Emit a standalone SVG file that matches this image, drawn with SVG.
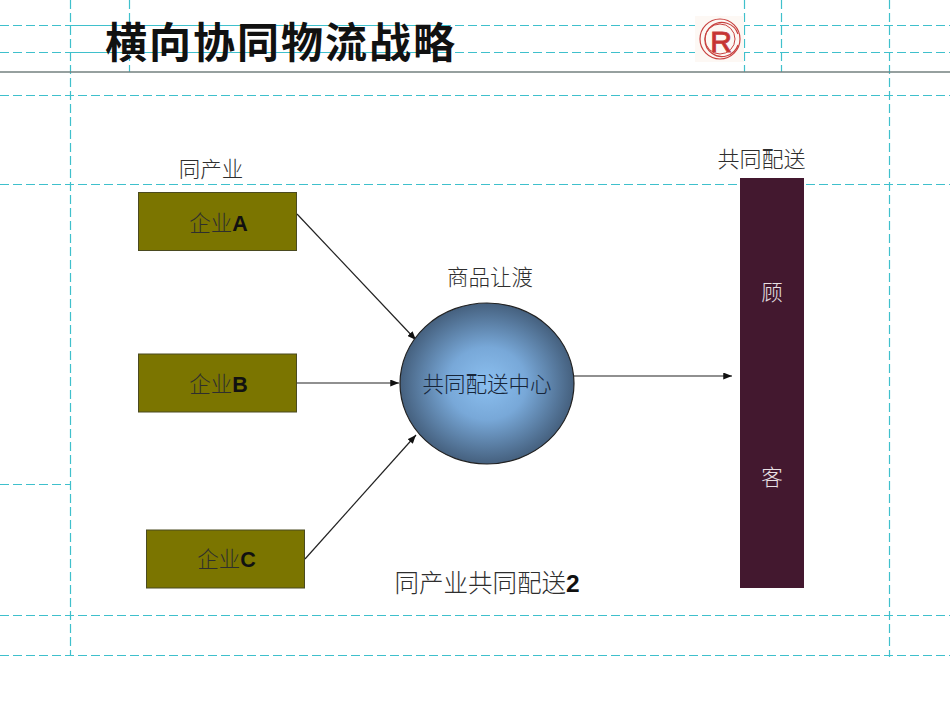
<svg xmlns="http://www.w3.org/2000/svg" width="950" height="713" viewBox="0 0 950 713">
<style>
.g{stroke:#3fc0cc;stroke-width:1.200;stroke-dasharray:9 4;fill:none}
.c{stroke:#222;stroke-width:1.200;fill:none;marker-end:url(#a)}
.n{stroke:#4a4a20;stroke-width:1;fill:#7b7500}
text{font-family:"Noto Sans CJK SC","Liberation Sans",sans-serif;fill:#2e2e2e;font-size:21.500px;font-weight:300;text-anchor:middle}
.b{font-family:"Liberation Sans","Noto Sans CJK SC",sans-serif;font-weight:700;fill:#111}
</style>
<defs>
<marker id="a" viewBox="0 0 10 8" refX="10" refY="4" markerWidth="9" markerHeight="7" markerUnits="userSpaceOnUse" orient="auto"><path d="M0 0L10 4L0 8z" fill="#111"/></marker>
<radialGradient id="s" cx="50%" cy="50%" r="50%"><stop offset="0" stop-color="#8cc0f0"/><stop offset="0.45" stop-color="#78a8d8"/><stop offset="1" stop-color="#45607e"/></radialGradient>
</defs>
<rect width="950" height="713" fill="#fff"/>
<g id="guides">
<path class="g" d="M0 25.500H950M0 52.500H950M0 95.500H950M0 184.500H950M0 615.500H950M0 655.500H950M0 484.500H70"/>
<path class="g" d="M70.500 0V655M129.500 0V72M744.500 0V72M781.500 0V72M889.500 0V657"/>
<path d="M70 25.500H450M70 52.500H450" stroke="#3fc0cc" stroke-width="1" fill="none"/>
<path d="M0 72H950" stroke="#73807f" stroke-width="1.500"/>
</g>
<text x="281" y="58" style="font-size:42px;font-weight:700;fill:#111;letter-spacing:2px">横向协同物流战略</text>
<g id="logo" fill="none" stroke="#c8413f">
<rect x="695" y="16" width="49" height="46" fill="#fdf8f4" stroke="none"/>
<circle cx="720" cy="39" r="20" stroke-width="1.200"/>
<path d="M738 34A17 17 0 1 0 738 45" stroke-width="1.200"/>
<circle cx="720" cy="39" r="15" stroke-width="1"/>
<text x="721" y="52" style="font-family:'Liberation Sans',sans-serif;font-size:30px;font-weight:400;fill:#c53030">R</text>
</g>
<g id="connectors">
<path class="c" d="M297 214L416 340"/>
<path class="c" d="M297 383H399"/>
<path class="c" d="M305 559L416 435"/>
<path class="c" d="M574 376H732"/>
</g>
<g id="node-a"><rect class="n" x="138.500" y="192.500" width="158" height="58"/><text x="218.500" y="231">企业<tspan class="b">A</tspan></text></g>
<g id="node-b"><rect class="n" x="138.500" y="354" width="158" height="58"/><text x="218.500" y="392">企业<tspan class="b">B</tspan></text></g>
<g id="node-c"><rect class="n" x="146.500" y="530" width="158" height="58"/><text x="226.500" y="567">企业<tspan class="b">C</tspan></text></g>
<g id="node-center"><ellipse cx="487" cy="383.500" rx="87" ry="80.500" fill="url(#s)" stroke="#222" stroke-width="1.200"/><text x="487" y="392" style="fill:#17263a">共同配送中心</text></g>
<g id="node-customer"><rect x="740" y="178" width="64" height="410" fill="#43182f"/><text x="772" y="300" style="fill:#e8e0e4">顾</text><text x="772" y="485" style="fill:#e8e0e4">客</text></g>
<text x="211" y="177">同产业</text>
<text x="490" y="285">商品让渡</text>
<text x="761.500" y="167" style="font-size:22px">共同配送</text>
<text x="487" y="592" style="font-size:24.500px">同产业共同配送<tspan class="b">2</tspan></text>
</svg>
